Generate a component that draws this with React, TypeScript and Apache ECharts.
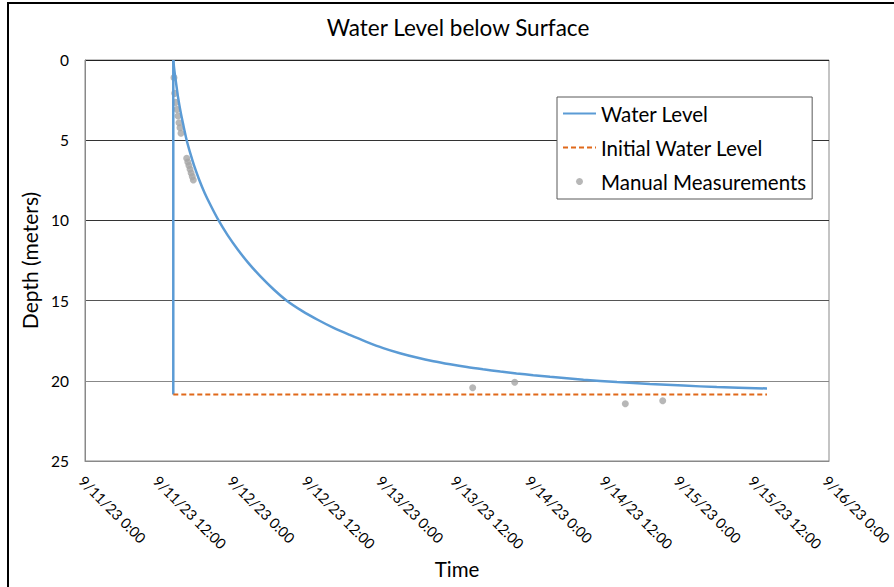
import { useEffect, useRef } from "react";
import * as echarts from "echarts";

const TITLE = "Water Level below Surface";
const X_NAME = "Time";
const Y_NAME = "Depth (meters)";
const LEGEND_NAMES = ["Water Level", "Initial Water Level", "Manual Measurements"];

// x values are hours since 9/11/23 0:00
const xMin = 0;
const xMax = 120;
const xStep = 12;
const yTicks = [0, 5, 10, 15, 20, 25];

// Water level recovery curve (hours, depth in meters)
const levelHours = [14.24, 14.4, 14.6, 14.8, 15.0, 15.4, 15.8, 16.4, 17.0, 17.6, 18.4, 19.3, 20.3, 21.5, 23.0, 24.6, 26.3, 28.3, 30.4, 32.5, 35.0, 37.6, 40.1, 42.7, 45.4, 48.1, 50.8, 53.5, 56.2, 58.9, 61.6, 64.2, 67.0, 69.6, 72.3, 75.0, 80.4, 85.8, 91.1, 96.5, 101.9, 110.0];
const levelDepth = [0, 0.6, 1.2, 1.75, 2.3, 3.2, 3.95, 5.0, 5.84, 6.59, 7.45, 8.29, 9.09, 9.97, 10.92, 11.8, 12.63, 13.49, 14.29, 14.99, 15.64, 16.21, 16.7, 17.14, 17.57, 17.96, 18.28, 18.55, 18.78, 18.97, 19.14, 19.28, 19.42, 19.54, 19.65, 19.75, 19.93, 20.08, 20.2, 20.3, 20.39, 20.48];

// Drop at start of the test (vertical segment)
const dropHours = [14.24, 14.24];
const dropDepth = [20.85, 0];

// Initial water level (dashed)
const initialHours = [14.24, 110.0];
const initialDepth = [20.85, 20.85];

// Manual measurements
const manualHours = [14.35, 14.47, 14.63, 14.84, 15.0, 15.16, 15.32, 15.48, 16.4, 16.58, 16.76, 16.94, 17.12, 17.3, 17.47, 62.53, 69.31, 87.15, 93.18];
const manualDepth = [1.1, 2.08, 2.64, 3.08, 3.49, 3.91, 4.22, 4.57, 6.13, 6.36, 6.58, 6.81, 7.04, 7.27, 7.48, 20.43, 20.09, 21.43, 21.24];

const FONT = "Lato";

function hourLabel(v: number): string {
  const day = 11 + Math.floor(v / 24 + 1e-9);
  const h = Math.round(v - (day - 11) * 24);
  return `9/${day}/23 ${h}:00`;
}

const pairs = (xs: number[], ys: number[]) => xs.map((x, i) => [x, ys[i]]);

export default function App() {
  const ref = useRef<HTMLDivElement>(null);
  useEffect(() => {
    if (!ref.current) return;
    const chart = echarts.init(ref.current, null, { renderer: "svg" });
    chart.setOption({
      animation: false,
      backgroundColor: "#fff",
      title: {
        text: TITLE,
        left: 453,
        top: 11,
        textAlign: "center",
        textStyle: { fontFamily: FONT, fontSize: 22.5, fontWeight: "normal", color: "#000" },
      },
      graphic: [
        {
          type: "rect",
          silent: true,
          z: 100,
          shape: { x: 8, y: 3, width: 1000, height: 1000 },
          style: { fill: "none", stroke: "#000", lineWidth: 2 },
        },
      ],
      legend: {
        orient: "vertical",
        left: 557,
        top: 97,
        padding: [6, 6, 7, 5],
        itemWidth: 33,
        itemHeight: 7,
        itemGap: 13,
        borderColor: "#595959",
        borderWidth: 1,
        backgroundColor: "#fff",
        textStyle: { fontFamily: FONT, fontSize: 20.5, color: "#000", lineHeight: 21 },
        data: [
          { name: LEGEND_NAMES[0], itemStyle: { opacity: 0 } },
          { name: LEGEND_NAMES[1], itemStyle: { opacity: 0 } },
          { name: LEGEND_NAMES[2] },
        ],
      },
      grid: {
        left: 85,
        right: 65,
        top: 60,
        bottom: 126,
        show: true,
        borderColor: "#898989",
        borderWidth: 1,
        outerBoundsMode: "none",
      },
      xAxis: {
        type: "value",
        min: xMin,
        max: xMax,
        interval: xStep,
        position: "bottom",
        axisLine: { show: true, onZero: false, lineStyle: { color: "#898989" } },
        axisTick: { show: false },
        splitLine: { show: false },
        axisLabel: {
          rotate: -45,
          margin: 21,
          padding: [0, 0, 0, -5],
          formatter: hourLabel,
          color: "#000",
          fontFamily: FONT,
          fontSize: 14.5,
        },
        name: X_NAME,
        nameLocation: "middle",
        nameGap: 91,
        nameTextStyle: { fontFamily: FONT, fontSize: 20.5, color: "#000" },
      },
      yAxis: {
        type: "value",
        inverse: true,
        min: yTicks[0],
        max: yTicks[yTicks.length - 1],
        interval: yTicks[1] - yTicks[0],
        axisLine: { show: true, lineStyle: { color: "#898989" } },
        axisTick: { show: false },
        splitLine: {
          show: true,
          lineStyle: { color: ["#222", "#333", "#333", "#555", "#888", "#898989"], width: 1 },
        },
        axisLabel: { margin: 16, color: "#000", fontFamily: FONT, fontSize: 15.5 },
        name: Y_NAME,
        nameLocation: "middle",
        nameGap: 38,
        nameRotate: 90,
        nameTextStyle: { fontFamily: FONT, fontSize: 21, color: "#000" },
      },
      series: [
        {
          name: LEGEND_NAMES[0],
          type: "line",
          data: pairs(dropHours, dropDepth),
          symbol: "none",
          lineStyle: { color: "#5B9BD5", width: 2.5 },
          itemStyle: { color: "#5B9BD5" },
        },
        {
          name: LEGEND_NAMES[0],
          type: "line",
          data: pairs(levelHours, levelDepth),
          symbol: "none",
          smooth: 0.3,
          lineStyle: { color: "#5B9BD5", width: 2.5 },
          itemStyle: { color: "#5B9BD5" },
        },
        {
          name: LEGEND_NAMES[1],
          type: "line",
          data: pairs(initialHours, initialDepth),
          symbol: "none",
          lineStyle: { color: "#E0691A", width: 2, type: [5, 3] },
          itemStyle: { color: "#E0691A" },
        },
        {
          name: LEGEND_NAMES[2],
          type: "scatter",
          data: pairs(manualHours, manualDepth),
          symbol: "circle",
          symbolSize: 7,
          itemStyle: { color: "#A5A5A5" },
        },
      ],
    });
    return () => chart.dispose();
  }, []);
  return (
    <div
      ref={ref}
      style={{ position: "absolute", left: 0, top: 0, width: 894, height: 587 }}
    />
  );
}
